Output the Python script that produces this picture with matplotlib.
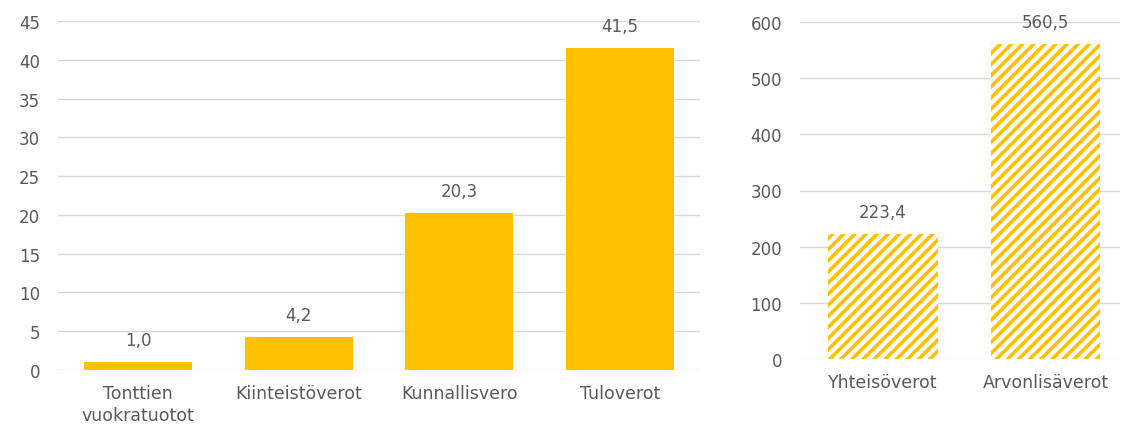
import matplotlib.pyplot as plt

plt.rcParams['font.family'] = ['DejaVu Sans']
plt.rcParams['hatch.linewidth'] = 2.6

kategoriat_vasen = ['Tonttien\nvuokratuotot', 'Kiinteistöverot', 'Kunnallisvero', 'Tuloverot']
arvot_vasen = [1.0, 4.2, 20.3, 41.5]

kategoriat_oikea = ['Yhteisöverot', 'Arvonlisäverot']
arvot_oikea = [223.4, 560.5]

keltainen = '#FFC000'
teksti = '#595959'
ruudukko = '#D9D9D9'

fig = plt.figure(figsize=(11.24, 4.31), dpi=100)
ax1 = fig.add_axes([58 / 1124, 60 / 431, 642 / 1124, 349 / 431])
ax2 = fig.add_axes([800 / 1124, 71 / 431, 320 / 1124, 337 / 431])


def muotoile(ax, ylim, step):
    ax.set_ylim(0, ylim)
    ax.set_yticks(range(0, ylim + 1, step))
    ax.grid(axis='y', color=ruudukko, linewidth=1)
    ax.set_axisbelow(True)
    for s in ax.spines.values():
        s.set_visible(False)
    ax.tick_params(axis='y', length=0, pad=13, labelsize=12, labelcolor=teksti)
    ax.tick_params(axis='x', length=0, pad=10, labelsize=12.5, labelcolor=teksti)


x1 = range(len(kategoriat_vasen))
ax1.bar(x1, arvot_vasen, width=0.67, color=keltainen)
ax1.set_xticks(list(x1))
ax1.set_xticklabels(kategoriat_vasen, linespacing=1.3)
ax1.set_xlim(-0.5, len(kategoriat_vasen) - 0.5)
muotoile(ax1, 45, 5)
for i, v in enumerate(arvot_vasen):
    ax1.annotate(f'{v:.1f}'.replace('.', ','), (i, v), xytext=(0, 13), textcoords='offset pixels',
                 ha='center', va='bottom', fontsize=12, color=teksti)

x2 = range(len(kategoriat_oikea))
ax2.bar(x2, arvot_oikea, width=0.67, facecolor='white', edgecolor=keltainen, hatch='///', linewidth=0)
ax2.set_xticks(list(x2))
ax2.set_xticklabels(kategoriat_oikea)
ax2.set_xlim(-0.51, 1.455)
muotoile(ax2, 600, 100)
for i, v in enumerate(arvot_oikea):
    ax2.annotate(f'{v:.1f}'.replace('.', ','), (i, v), xytext=(0, 13), textcoords='offset pixels',
                 ha='center', va='bottom', fontsize=12, color=teksti)

fig.savefig('out.png', dpi=100)
